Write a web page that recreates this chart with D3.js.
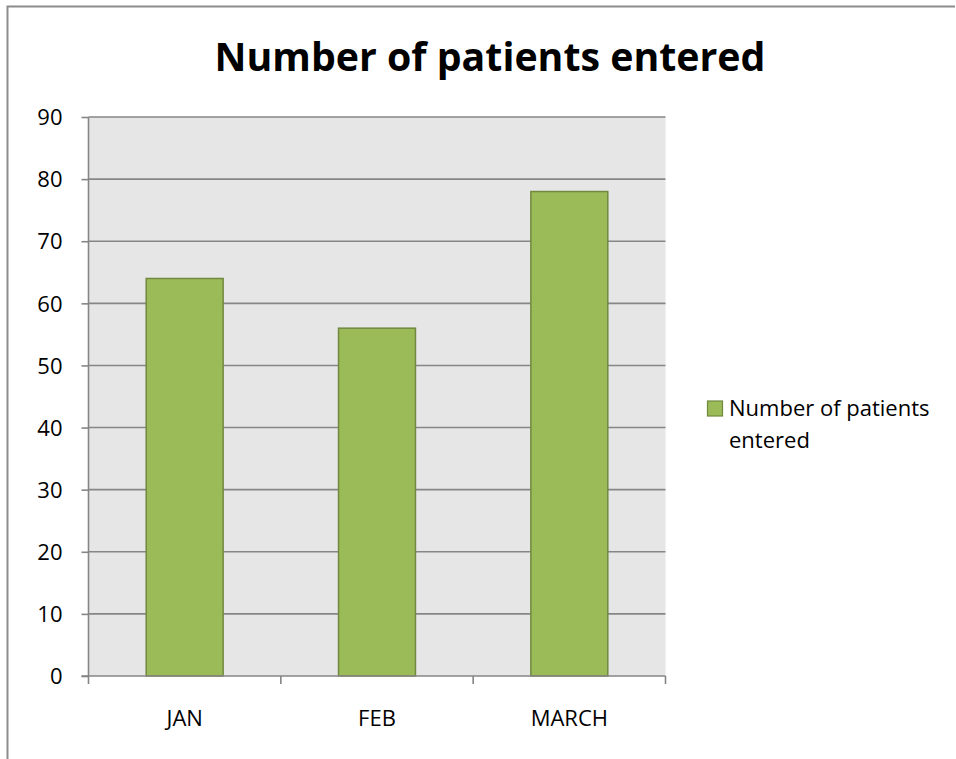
<!DOCTYPE html>
<html><head><meta charset="utf-8">
<script src="https://cdn.jsdelivr.net/npm/d3@7"></script>
<style>body{margin:0;background:#fff}svg{display:block}</style>
</head><body>
<svg id="c" width="956" height="759"></svg>
<script>
const categories = ["JAN", "FEB", "MARCH"];
const values = [64, 56, 78];
const seriesName = "Number of patients entered";
const yTicks = [0,10,20,30,40,50,60,70,80,90];
const title = "Number of patients entered";

const svg = d3.select("#c");
const font = "'Open Sans', 'Noto Sans', sans-serif";
const fs = 22;
const m = {left: 88.5, top: 117, right: 665.5, bottom: 676};

// outer frame
svg.append("path").attr("d", "M7.5,759 V6.5 H955").attr("fill","none").attr("stroke","#8c8c8c").attr("stroke-width",2);

// title
const t = svg.append("text").attr("x", 490).attr("y", 71).attr("text-anchor","middle")
  .attr("font-family", font).attr("font-weight","bold").attr("font-size",36).attr("fill","#000").text(title);
const tw = t.node().getComputedTextLength();
t.attr("font-size", 36 * 551 / tw);

const x = d3.scaleBand().domain(categories).range([m.left, m.right]).paddingInner(0.6).paddingOuter(0.3);
const xb = d3.scaleBand().domain(categories).range([m.left, m.right]);
const y = d3.scaleLinear().domain([0, 90]).range([m.bottom, m.top]);

svg.append("rect").attr("x", m.left).attr("y", m.top).attr("width", m.right-m.left).attr("height", m.bottom-m.top).attr("fill","#e6e6e6");

// gridlines
svg.append("g").selectAll("line").data(yTicks.filter(d=>d>0)).join("line")
  .attr("x1", m.left).attr("x2", m.right).attr("y1", d=>y(d)).attr("y2", d=>y(d))
  .attr("stroke","#868686").attr("stroke-width",1.6);

// bars
svg.append("g").selectAll("rect").data(values).join("rect")
  .attr("x", (d,i)=>x(categories[i])).attr("width", x.bandwidth())
  .attr("y", d=>y(d)).attr("height", d=>y(0)-y(d))
  .attr("fill","#9bbb59").attr("stroke","#71893f").attr("stroke-width",1.5);

// y axis
const ya = svg.append("g").attr("transform", `translate(${m.left},0)`)
  .call(d3.axisLeft(y).tickValues(yTicks).tickSize(7).tickPadding(19));
ya.select(".domain").attr("stroke","#868686").attr("stroke-width",1.6).attr("d", `M0,${m.top}V${m.bottom}`);
ya.selectAll(".tick line").attr("stroke","#868686").attr("stroke-width",1.6);
ya.selectAll(".tick text").attr("font-family", font).attr("font-size",fs).attr("fill","#000").attr("dy","0.35em");

// x axis
const xa = svg.append("g").attr("transform", `translate(0,${m.bottom})`)
  .call(d3.axisBottom(xb).tickSize(0).tickPadding(34));
xa.select(".domain").attr("stroke","#868686").attr("stroke-width",1.6).attr("d", `M${m.left-7},0H${m.right}`);
xa.selectAll(".tick text").attr("font-family", font).attr("font-size",fs).attr("fill","#000");
const boundaries = [m.left, ...categories.slice(1).map(c=>xb(c)), m.right];
xa.append("g").selectAll("line").data(boundaries).join("line")
  .attr("x1", d=>d).attr("x2", d=>d).attr("y1",0).attr("y2",8)
  .attr("stroke","#868686").attr("stroke-width",1.6);

// legend
const lg = svg.append("g");
lg.append("rect").attr("x",707.5).attr("y",401).attr("width",15).attr("height",15)
  .attr("fill","#9bbb59").attr("stroke","#71893f").attr("stroke-width",1.2);
const lt = lg.append("text").attr("font-family", font).attr("font-size",fs).attr("fill","#000");
lt.append("tspan").attr("x",729).attr("y",416).text("Number of patients");
lt.append("tspan").attr("x",729).attr("y",448).text("entered");
</script>
</body></html>
